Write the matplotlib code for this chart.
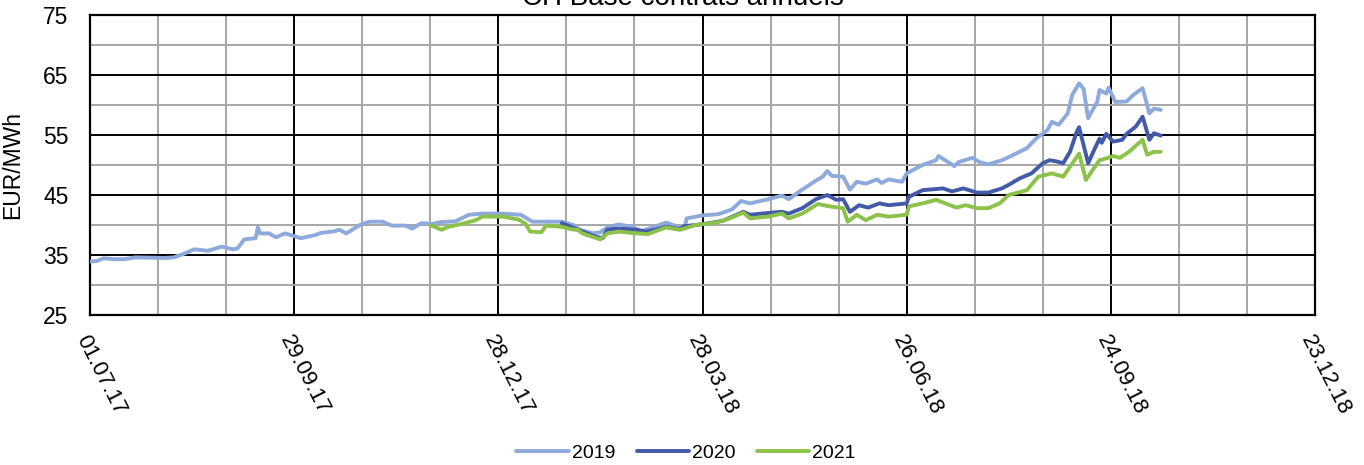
import matplotlib
matplotlib.use("Agg")
import matplotlib.pyplot as plt
import matplotlib.dates as mdates
import numpy as np
import pandas as pd

plt.rcParams['font.family'] = ['Liberation Sans', 'DejaVu Sans']

# ---------------- data ----------------
dates_2019 = ['2017-07-01','2017-07-04','2017-07-07','2017-07-12','2017-07-16','2017-07-21','2017-07-28',
              '2017-08-03','2017-08-07','2017-08-12','2017-08-16','2017-08-22','2017-08-28','2017-09-02',
              '2017-09-04','2017-09-07','2017-09-12','2017-09-13','2017-09-14','2017-09-18','2017-09-21',
              '2017-09-25','2017-10-02','2017-10-08','2017-10-11','2017-10-16','2017-10-19','2017-10-22',
              '2017-10-28','2017-11-01','2017-11-07','2017-11-11','2017-11-17','2017-11-20','2017-11-24',
              '2017-11-29','2017-12-03','2017-12-09','2017-12-15','2017-12-21','2017-12-30','2018-01-07',
              '2018-01-12','2018-01-18','2018-01-25','2018-01-30','2018-02-02','2018-02-08','2018-02-11',
              '2018-02-14','2018-02-19','2018-02-25','2018-03-01','2018-03-06','2018-03-12','2018-03-18',
              '2018-03-20','2018-03-21','2018-03-28','2018-04-04','2018-04-10','2018-04-14','2018-04-18',
              '2018-04-26','2018-05-02','2018-05-05','2018-05-11','2018-05-17','2018-05-20','2018-05-22',
              '2018-05-24','2018-05-29','2018-06-01','2018-06-04','2018-06-08','2018-06-13','2018-06-15',
              '2018-06-18','2018-06-24','2018-06-26','2018-07-03','2018-07-09','2018-07-10','2018-07-15',
              '2018-07-17','2018-07-19','2018-07-25','2018-07-28','2018-08-01','2018-08-07','2018-08-11',
              '2018-08-18','2018-08-22','2018-08-27','2018-08-29','2018-09-01','2018-09-05','2018-09-07',
              '2018-09-10','2018-09-12','2018-09-14','2018-09-16','2018-09-18','2018-09-19','2018-09-22',
              '2018-09-23','2018-09-26','2018-10-01','2018-10-04','2018-10-08','2018-10-11','2018-10-13',
              '2018-10-16']
values_2019 = [33.9, 34.0, 34.45, 34.3, 34.3, 34.6, 34.55,
               34.5, 34.6, 35.3, 35.95, 35.7, 36.4, 35.95,
               36.1, 37.6, 37.8, 39.6, 38.6, 38.6, 37.95,
               38.6, 37.8, 38.3, 38.7, 38.9, 39.2, 38.6,
               40.0, 40.55, 40.55, 39.9, 39.9, 39.4, 40.3,
               40.2, 40.5, 40.6, 41.7, 41.9, 41.9, 41.7,
               40.55, 40.55, 40.55, 40.0, 39.2, 38.6, 38.8,
               39.6, 40.1, 39.7, 39.0, 39.6, 40.4, 39.6,
               39.4, 41.1, 41.6, 41.8, 42.6, 44.0, 43.6,
               44.3, 44.9, 44.3, 45.9, 47.4, 48.05, 49.0,
               48.2, 48.05, 45.9, 47.2, 46.9, 47.6, 47.0,
               47.6, 47.2, 48.6, 50.0, 50.8, 51.5, 50.3,
               49.8, 50.5, 51.2, 50.5, 50.1, 50.8, 51.5,
               52.8, 54.4, 55.8, 57.2, 56.7, 58.6, 61.7,
               63.6, 62.7, 57.8, 59.2, 60.5, 62.5, 61.9,
               62.9, 60.5, 60.6, 61.7, 62.8, 58.6, 59.4,
               59.2]

dates_2020 = ['2018-01-25','2018-01-29','2018-02-03','2018-02-09','2018-02-12','2018-02-14','2018-02-19',
              '2018-02-27','2018-03-03','2018-03-07','2018-03-12','2018-03-18','2018-03-20','2018-03-25',
              '2018-03-31','2018-04-06','2018-04-12','2018-04-15','2018-04-18','2018-04-23','2018-04-26',
              '2018-05-02','2018-05-05','2018-05-11','2018-05-17','2018-05-22','2018-05-26','2018-05-29',
              '2018-06-01','2018-06-05','2018-06-09','2018-06-14','2018-06-18','2018-06-26','2018-06-27',
              '2018-07-03','2018-07-12','2018-07-16','2018-07-21','2018-07-27','2018-08-01','2018-08-07',
              '2018-08-10','2018-08-15','2018-08-20','2018-08-25','2018-08-28','2018-08-31','2018-09-03',
              '2018-09-06','2018-09-09','2018-09-10','2018-09-14','2018-09-17','2018-09-19','2018-09-20',
              '2018-09-22','2018-09-25','2018-09-29','2018-10-01','2018-10-05','2018-10-08','2018-10-11',
              '2018-10-13','2018-10-16']
values_2020 = [40.3, 39.7, 38.9, 38.05, 37.8, 39.2, 39.4,
               39.2, 38.9, 39.2, 39.7, 39.3, 39.8, 40.0,
               40.3, 40.7, 41.7, 42.2, 41.7, 41.9, 42.0,
               42.2, 41.9, 42.8, 44.3, 45.0, 44.2, 44.3,
               42.2, 43.3, 42.9, 43.6, 43.3, 43.6, 44.7,
               45.8, 46.1, 45.6, 46.1, 45.4, 45.4, 46.1,
               46.7, 47.8, 48.6, 50.3, 50.8, 50.6, 50.3,
               52.2, 55.55, 56.3, 50.3, 52.8, 54.4, 53.7,
               55.2, 53.9, 54.2, 55.2, 56.4, 58.05, 54.2,
               55.3, 54.9]

dates_2021 = ['2017-11-28','2017-12-03','2017-12-06','2017-12-12','2017-12-18','2017-12-21','2017-12-30',
              '2018-01-06','2018-01-09','2018-01-11','2018-01-16','2018-01-18','2018-01-25','2018-01-29',
              '2018-02-01','2018-02-03','2018-02-11','2018-02-14','2018-02-19','2018-02-27','2018-03-04',
              '2018-03-12','2018-03-18','2018-03-25','2018-04-03','2018-04-09','2018-04-15','2018-04-18',
              '2018-04-26','2018-05-02','2018-05-05','2018-05-11','2018-05-17','2018-05-18','2018-05-23',
              '2018-05-29','2018-05-31','2018-06-04','2018-06-08','2018-06-13','2018-06-18','2018-06-26',
              '2018-06-27','2018-07-03','2018-07-09','2018-07-13','2018-07-18','2018-07-22','2018-07-27',
              '2018-08-01','2018-08-06','2018-08-10','2018-08-18','2018-08-20','2018-08-23','2018-08-29',
              '2018-09-03','2018-09-06','2018-09-10','2018-09-13','2018-09-16','2018-09-19','2018-09-22',
              '2018-09-25','2018-09-28','2018-10-02','2018-10-08','2018-10-10','2018-10-13','2018-10-16']
values_2021 = [40.0, 39.2, 39.7, 40.2, 40.8, 41.4, 41.4,
               40.9, 40.2, 38.9, 38.8, 39.9, 39.7, 39.3,
               39.2, 38.6, 37.6, 38.6, 38.9, 38.6, 38.5,
               39.6, 39.2, 40.0, 40.4, 41.1, 42.05, 41.1,
               41.4, 41.9, 41.1, 41.9, 43.3, 43.5, 43.1,
               42.8, 40.55, 41.7, 40.8, 41.7, 41.4, 41.7,
               43.1, 43.6, 44.2, 43.6, 42.9, 43.3, 42.8,
               42.8, 43.6, 45.0, 45.8, 46.7, 48.05, 48.6,
               48.05, 49.7, 51.9, 47.5, 49.2, 50.8, 51.1,
               51.5, 51.2, 52.2, 54.2, 51.7, 52.2, 52.2]

series_names = ['2019', '2020', '2021']
tick_dates = ['2017-07-01', '2017-09-29', '2017-12-28', '2018-03-28', '2018-06-26', '2018-09-24', '2018-12-23']
y_ticks = [25, 35, 45, 55, 65, 75]
title = 'CH Base contrats annuels'
y_label = 'EUR/MWh'

colors = ['#8EA9DB', '#4459A8', '#8DC24A']

# ---------------- figure ----------------
fig = plt.figure(figsize=(13.64, 4.65), dpi=100)
ax = fig.add_axes([90/1364, 150/465, 1225/1364, 300/465])

all_series = [(dates_2019, values_2019), (dates_2020, values_2020), (dates_2021, values_2021)]
for (d, v), name, c in zip(all_series, series_names, colors):
    ax.plot(pd.to_datetime(d), v, color=c, lw=2.8, label=name, solid_capstyle='round',
            solid_joinstyle='round', zorder=3)

xt = pd.to_datetime(tick_dates)
ax.set_xlim(xt[0], xt[-1])
ax.set_ylim(y_ticks[0], y_ticks[-1])

ax.set_xticks(xt)
ax.xaxis.set_major_formatter(mdates.DateFormatter('%d.%m.%y'))
start_num = mdates.date2num(xt[0])
end_num = mdates.date2num(xt[-1])
ax.set_xticks(np.arange(start_num, end_num + 1, 30), minor=True)

ax.set_yticks(y_ticks)
ax.set_yticks(np.arange(30, 75, 10), minor=True)

ax.grid(which='minor', color='#A6A6A6', lw=1.4, zorder=1)
ax.grid(which='major', color='black', lw=1.4, zorder=2)
ax.set_axisbelow(True)
for s in ax.spines.values():
    s.set_color('black')
    s.set_linewidth(1.6)

ax.tick_params(which='both', length=0)
ax.tick_params(axis='y', labelsize=16.5, pad=15.5)
ax.tick_params(axis='x', labelsize=16, pad=12)
for lab in ax.get_xticklabels():
    lab.set_rotation(-63)
    lab.set_rotation_mode('anchor')
    lab.set_ha('left')
    lab.set_va('top')

ax.set_ylabel(y_label, fontsize=16.5)
ax.yaxis.set_label_coords(-0.054, 0.5)

fig.text(0.5007, 460/465, title, ha='center', va='baseline', fontsize=20)

fig.legend(loc='center', bbox_to_anchor=(0.503, 12/465), ncol=3, frameon=False,
           fontsize=14, handlelength=2.7, handletextpad=0.15, columnspacing=1.1)

fig.savefig('out.png', dpi=100)
